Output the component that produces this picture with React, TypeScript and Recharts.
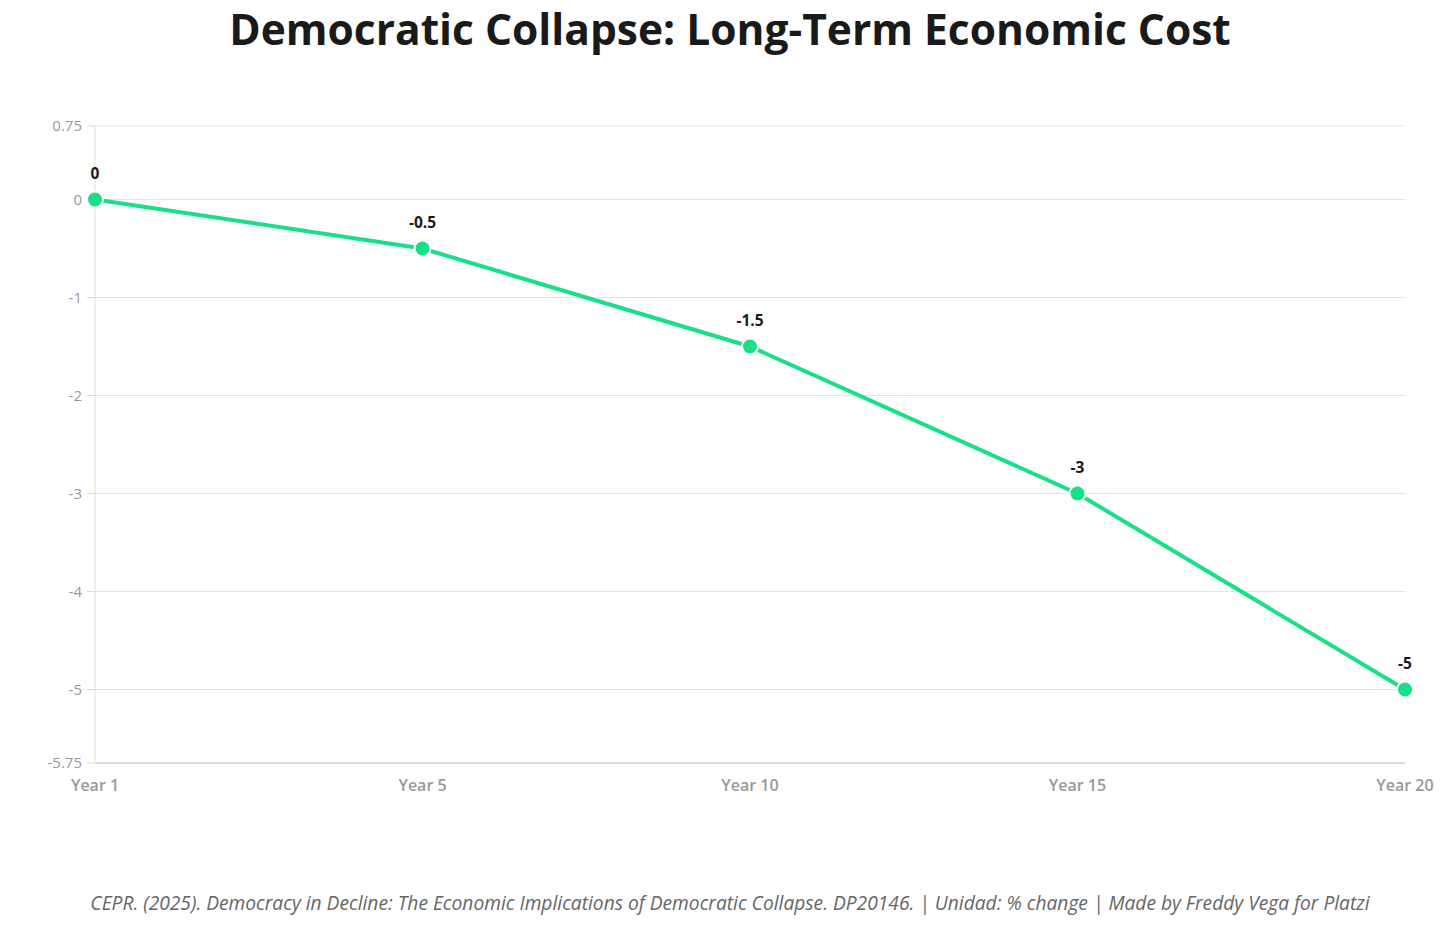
import React from "react";
import { LineChart, Line, XAxis, YAxis, CartesianGrid, LabelList } from "recharts";

const years = ["Year 1", "Year 5", "Year 10", "Year 15", "Year 20"];
const gdpChange = [0, -0.5, -1.5, -3, -5];
const yTicks = [0.75, 0, -1, -2, -3, -4, -5, -5.75];

const data = years.map((year, i) => ({ year, value: gdpChange[i] }));

const FONT = "'Open Sans', sans-serif";

const App: React.FC = () => {
  return (
    <div
      style={{
        position: "absolute",
        left: 0,
        top: 0,
        width: 1456,
        height: 932,
        background: "#fff",
        fontFamily: FONT,
        overflow: "hidden",
      }}
    >
      <div
        style={{
          position: "absolute",
          top: 0,
          left: 4,
          width: 1452,
          textAlign: "center",
          fontSize: 42.5,
          fontWeight: 700,
          color: "#1a1a1a",
          lineHeight: "58px",
        }}
      >
        Democratic Collapse: Long-Term Economic Cost
      </div>
      <LineChart
        width={1456}
        height={932}
        data={data}
        margin={{ top: 126, right: 51, bottom: 139, left: 35 }}
        style={{ position: "absolute", left: 0, top: 0 }}
      >
        <CartesianGrid vertical={false} stroke="#e3e3e3" />
        <XAxis
          dataKey="year"
          height={30}
          padding={{ left: 0, right: 0 }}
          axisLine={{ stroke: "#cccccc" }}
          tickLine={false}
          tickMargin={11}
          tick={{ fill: "#999999", fontSize: 16, fontWeight: 600, fontFamily: FONT }}
        />
        <YAxis
          width={60}
          domain={[-5.75, 0.75]}
          ticks={yTicks}
          interval={0}
          axisLine={{ stroke: "#dddddd" }}
          tickLine={{ stroke: "#dddddd" }}
          tickSize={8}
          tickMargin={5}
          tick={{ fill: "#999999", fontSize: 15, fontFamily: FONT }}
        />
        <Line
          type="linear"
          dataKey="value"
          stroke="#17e086"
          strokeWidth={4}
          dot={{ r: 8, fill: "#17e086", stroke: "#ffffff", strokeWidth: 2 }}
          isAnimationActive={false}
        >
          <LabelList
            dataKey="value"
            position="top"
            offset={21}
            style={{ fill: "#1a1a1a", fontSize: 15.5, fontWeight: 700, fontFamily: FONT }}
          />
        </Line>
      </LineChart>
      <div
        style={{
          position: "absolute",
          top: 889,
          left: 4,
          width: 1452,
          textAlign: "center",
          fontSize: 19.2,
          fontStyle: "italic",
          color: "#666666",
          lineHeight: "28px",
        }}
      >
        CEPR. (2025). Democracy in Decline: The Economic Implications of Democratic Collapse. DP20146. | Unidad: % change | Made by Freddy Vega for Platzi
      </div>
    </div>
  );
};

export default App;
